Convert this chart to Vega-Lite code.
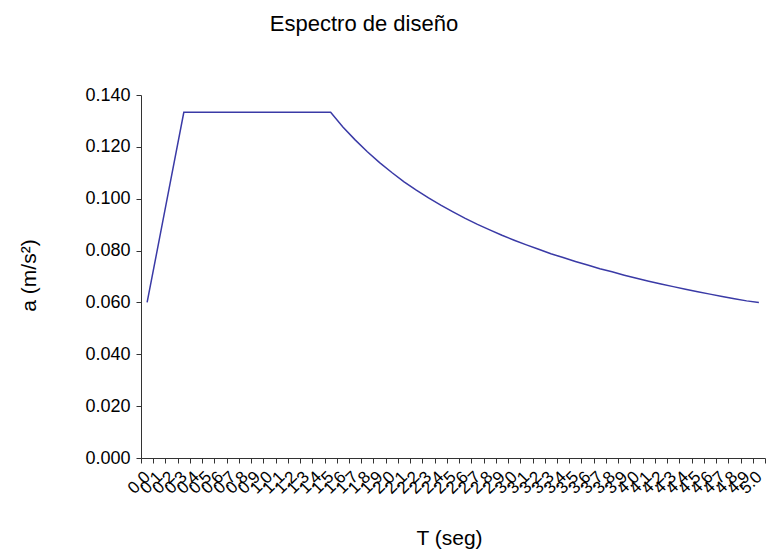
{
  "$schema": "https://vega.github.io/schema/vega-lite/v6.json",
  "width": 624,
  "height": 363,
  "autosize": {"type": "none"},
  "padding": {"left": 141, "top": 95, "right": 1, "bottom": 96},
  "background": "white",
  "title": {
    "text": "Espectro de diseño",
    "font": "Liberation Sans",
    "fontSize": 22,
    "fontWeight": "normal",
    "color": "black",
    "anchor": "middle",
    "frame": "group",
    "dx": -89,
    "offset": 50
  },
  "config": {
    "view": {"stroke": null},
    "axis": {
      "labelFont": "Liberation Sans",
      "titleFont": "Liberation Sans",
      "labelColor": "black",
      "titleColor": "black",
      "domainColor": "#333333",
      "tickColor": "#333333",
      "grid": false,
      "titleFontWeight": "normal"
    }
  },
  "data": {
    "values": [
      {"T": "0.0", "a": 0.0600},
      {"T": "0.1", "a": 0.0844},
      {"T": "0.2", "a": 0.1089},
      {"T": "0.3", "a": 0.1333},
      {"T": "0.4", "a": 0.1333},
      {"T": "0.5", "a": 0.1333},
      {"T": "0.6", "a": 0.1333},
      {"T": "0.7", "a": 0.1333},
      {"T": "0.8", "a": 0.1333},
      {"T": "0.9", "a": 0.1333},
      {"T": "1.0", "a": 0.1333},
      {"T": "1.1", "a": 0.1333},
      {"T": "1.2", "a": 0.1333},
      {"T": "1.3", "a": 0.1333},
      {"T": "1.4", "a": 0.1333},
      {"T": "1.5", "a": 0.1333},
      {"T": "1.6", "a": 0.1277},
      {"T": "1.7", "a": 0.1227},
      {"T": "1.8", "a": 0.1181},
      {"T": "1.9", "a": 0.1139},
      {"T": "2.0", "a": 0.1101},
      {"T": "2.1", "a": 0.1065},
      {"T": "2.2", "a": 0.1033},
      {"T": "2.3", "a": 0.1003},
      {"T": "2.4", "a": 0.0975},
      {"T": "2.5", "a": 0.0949},
      {"T": "2.6", "a": 0.0924},
      {"T": "2.7", "a": 0.0901},
      {"T": "2.8", "a": 0.0880},
      {"T": "2.9", "a": 0.0859},
      {"T": "3.0", "a": 0.0840},
      {"T": "3.1", "a": 0.0822},
      {"T": "3.2", "a": 0.0805},
      {"T": "3.3", "a": 0.0788},
      {"T": "3.4", "a": 0.0773},
      {"T": "3.5", "a": 0.0758},
      {"T": "3.6", "a": 0.0744},
      {"T": "3.7", "a": 0.0730},
      {"T": "3.8", "a": 0.0718},
      {"T": "3.9", "a": 0.0705},
      {"T": "4.0", "a": 0.0693},
      {"T": "4.1", "a": 0.0682},
      {"T": "4.2", "a": 0.0671},
      {"T": "4.3", "a": 0.0661},
      {"T": "4.4", "a": 0.0651},
      {"T": "4.5", "a": 0.0641},
      {"T": "4.6", "a": 0.0632},
      {"T": "4.7", "a": 0.0623},
      {"T": "4.8", "a": 0.0614},
      {"T": "4.9", "a": 0.0606},
      {"T": "5.0", "a": 0.0600}
    ]
  },
  "mark": {"type": "line", "color": "#3a3aa6", "strokeWidth": 1.5},
  "encoding": {
    "x": {
      "field": "T",
      "type": "ordinal",
      "sort": null,
      "bandPosition": 0.5,
      "scale": {"type": "band", "paddingInner": 0, "paddingOuter": 0},
      "axis": {
        "title": "T (seg)",
        "titleFontSize": 21,
        "titleX": 308,
        "titleY": 80,
        "titleAlign": "center",
        "titleBaseline": "middle",
        "labelAngle": -45,
        "labelAlign": "right",
        "labelBaseline": "middle",
        "labelFontSize": 17,
        "labelOverlap": false,
        "labelPadding": 11,
        "tickBand": "extent",
        "tickSize": 5
      }
    },
    "y": {
      "field": "a",
      "type": "quantitative",
      "scale": {"domain": [0, 0.14], "nice": false, "zero": true},
      "axis": {
        "title": "a (m/s²)",
        "titleFontSize": 21,
        "titleX": -112,
        "titleY": 180,
        "titleAngle": -90,
        "titleAlign": "center",
        "titleBaseline": "middle",
        "values": [0, 0.02, 0.04, 0.06, 0.08, 0.1, 0.12, 0.14],
        "format": ".3f",
        "labelFontSize": 18,
        "labelPadding": 6,
        "tickSize": 5
      }
    }
  }
}
